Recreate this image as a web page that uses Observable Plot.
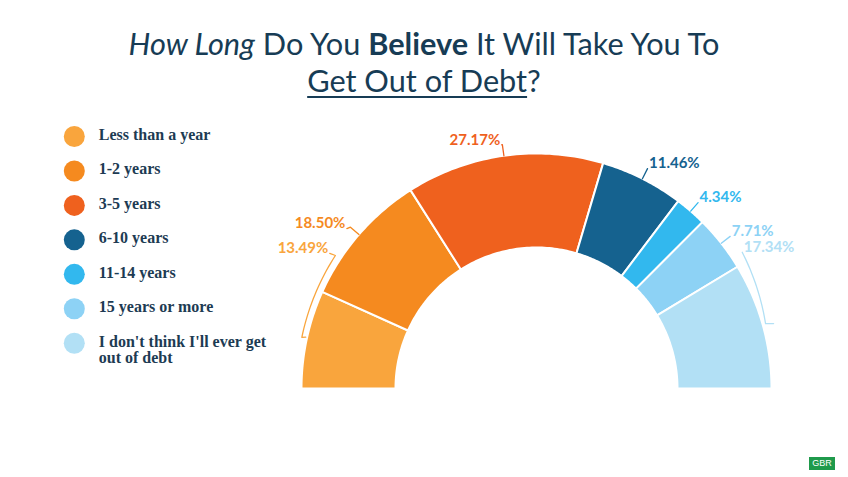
<!DOCTYPE html>
<html><head><meta charset="utf-8">
<script src="https://cdn.jsdelivr.net/npm/d3@7"></script>
<script src="https://cdn.jsdelivr.net/npm/@observablehq/plot@0.6"></script>
<style>
body{margin:0;background:#fff;}
#wrap{position:relative;width:848px;height:477px;overflow:hidden;background:#fff;}
#chart{position:absolute;left:0;top:0;}
#title{position:absolute;left:0;top:25px;width:848px;text-align:center;font-family:Lato,sans-serif;font-size:30.7px;color:#173c55;line-height:37px;}
#title u{text-decoration-thickness:2px;text-underline-offset:4px;}
#badge{position:absolute;left:809px;top:457px;width:26px;height:13px;background:#1f9a4b;color:#fff;font:9px "Liberation Sans",sans-serif;text-align:center;line-height:13px;}
</style></head>
<body>
<div id="wrap">
<div id="chart"></div>
<div id="title"><i>How Long</i> Do You <b>Believe</b> It Will Take You To<br><u>Get Out of Debt</u>?</div>
<div id="badge">GBR</div>
</div>
<script>
const categories = ["Less than a year","1-2 years","3-5 years","6-10 years","11-14 years","15 years or more","I don't think I'll ever get\nout of debt"];
const values = [13.49, 18.50, 27.17, 11.46, 4.34, 7.71, 17.34];
const valueLabels = ["13.49%","18.50%","27.17%","11.46%","4.34%","7.71%","17.34%"];
const colors = ["#f9a53d","#f58a1f","#ef611e","#15628f","#32b8ee","#8dd2f5","#b2e0f5"];

const total = d3.sum(values);
const RIN = 0.6;
const deg = p => 180 * (1 - p / total);           // cumulative share -> angle (degrees)
const polar = (a, r) => ({x: r * Math.cos(a * Math.PI / 180), y: r * Math.sin(a * Math.PI / 180)});
const cum = d3.cumsum(values);
const slices = values.map((v, i) => ({cat: categories[i], a0: deg(cum[i] - v), a1: deg(cum[i]), am: deg(cum[i] - v / 2)}));

// arc polygons
const arcPts = [];
slices.forEach(s => {
  const n = 48;
  for (let k = 0; k <= n; k++) arcPts.push({cat: s.cat, ...polar(s.a0 + (s.a1 - s.a0) * k / n, 1)});
  for (let k = n; k >= 0; k--) arcPts.push({cat: s.cat, ...polar(s.a0 + (s.a1 - s.a0) * k / n, RIN)});
});

// leader lines and label anchors
const leaders = [];
const labels = [];
slices.forEach((s, i) => {
  if (i === 0) {
    const top = s.a1 - 9.2, bot = s.am - 0.16;
    const start = polar(s.a1 - 8.9, 1.051);
    leaders.push({cat: s.cat, seg: i, ...start});
    for (let k = 0; k <= 20; k++) {
      const t = k / 20;
      leaders.push({cat: s.cat, seg: i, ...polar(top + (bot - top) * t, 1.026 + (1.022 - 1.026) * t)});
    }
    leaders.push({cat: s.cat, seg: i, ...polar(s.am - 0.4, 1.006)});
    labels.push({cat: s.cat, text: valueLabels[i], side: "left", ...start});
  } else if (i === slices.length - 1) {
    const top = s.a0 + 2.3, bot = s.am + 0.2;
    const start = polar(top, 1.05);
    for (let k = 0; k <= 20; k++) {
      const t = k / 20;
      leaders.push({cat: s.cat, seg: i, ...polar(top + (bot - top) * t, 1.05 + (1.013 - 1.05) * t)});
    }
    leaders.push({cat: s.cat, seg: i, ...polar(s.am - 0.3, 1.046)});
    labels.push({cat: s.cat, text: valueLabels[i], side: "right", ...start});
  } else {
    const p0 = polar(s.am, 1.0), p1 = polar(s.am, 1.048);
    const left = p1.x < 0;
    const c = Math.abs(Math.cos(s.am * Math.PI / 180));
    const p2 = {x: p1.x + (left ? -0.02 * c : 0), y: p1.y - (left ? 0.008 * c : 0)};
    leaders.push({cat: s.cat, seg: i, ...p0}, {cat: s.cat, seg: i, ...p1}, {cat: s.cat, seg: i, ...p2});
    labels.push({cat: s.cat, text: valueLabels[i], side: left ? "left" : "right", ...p2});
  }
});

// legend rows
const legendRows = categories.map((c, i) => ({cat: c, y: 1.0723 - i * 0.1466}));

const chart = Plot.plot({
  width: 848, height: 477, margin: 0,
  x: {domain: [-536 / 235, 312 / 235], axis: null},
  y: {domain: [-89 / 235, 388 / 235], axis: null},
  color: {domain: categories, range: colors},
  style: {background: "transparent"},
  marks: [
    Plot.line(arcPts, {x: "x", y: "y", z: "cat", fill: "cat", stroke: "white", strokeWidth: 2, curve: "linear-closed"}),
    Plot.line(leaders, {x: "x", y: "y", z: "seg", stroke: "cat", strokeWidth: 1.3}),
    Plot.text(labels.filter(d => d.side === "left"), {x: "x", y: "y", text: "text", fill: "cat", textAnchor: "end", dx: -1.5, dy: -5, fontFamily: "Lato", fontWeight: "bold", fontSize: 15}),
    Plot.text(labels.filter(d => d.side === "right"), {x: "x", y: "y", text: "text", fill: "cat", textAnchor: "start", dx: 1.5, dy: -5, fontFamily: "Lato", fontWeight: "bold", fontSize: 15}),
    Plot.dot(legendRows, {x: () => -1.9668, y: "y", r: 10.5, fill: "cat"}),
    Plot.text(legendRows, {x: () => -1.8626, y: "y", text: "cat", textAnchor: "start", lineAnchor: "top", dy: -8.5, lineHeight: 1.05, fill: "#1d3b53", fontFamily: "Liberation Serif", fontWeight: "bold", fontSize: 16})
  ]
});
document.getElementById("chart").appendChild(chart);
</script>
</body></html>
